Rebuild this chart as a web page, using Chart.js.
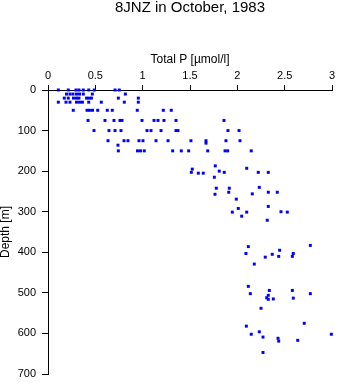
<!DOCTYPE html>
<html>
<head>
<meta charset="utf-8">
<script src="https://cdn.jsdelivr.net/npm/chart.js@4"></script>
<style>
  body { margin: 0; background: #fff; }
  canvas { display: block; }
</style>
</head>
<body>
<canvas id="chart" width="338" height="384"></canvas>
<script>
const title = '8JNZ in October, 1983';
const xTitle = 'Total P [µmol/l]';
const yTitle = 'Depth [m]';

const xTicks = [0, 0.5, 1, 1.5, 2, 2.5, 3];
const xTickLabels = ['0', '0.5', '1', '1.5', '2', '2.5', '3'];
const yTicks = [0, 100, 200, 300, 400, 500, 600, 700];
const yTickLabels = ['0', '100', '200', '300', '400', '500', '600', '700'];

// upper layer: standard bottle depths, several stations each
const shelfDepths = [0, 10, 20, 30, 50, 75, 100, 125, 150];
const shelfTotalP = [
  [0.109, 0.214, 0.296, 0.327, 0.373, 0.43, 0.489, 0.708, 0.753],
  [0.195, 0.232, 0.264, 0.301, 0.333, 0.373, 0.468, 0.817],
  [0.172, 0.214, 0.269, 0.301, 0.327, 0.407, 0.433, 0.459, 0.743, 0.954],
  [0.109, 0.19, 0.232, 0.301, 0.333, 0.364, 0.43, 0.563, 0.806, 0.954],
  [0.267, 0.412, 0.438, 0.47, 0.525, 0.626, 0.679, 0.943, 1.218, 1.302],
  [0.423, 0.602, 0.697, 0.76, 0.782, 0.993, 1.12, 1.162, 1.225, 1.352, 1.859],
  [0.486, 0.644, 0.708, 0.771, 1.046, 1.088, 1.194, 1.352, 1.373, 1.901, 2.018],
  [0.634, 0.803, 0.845, 0.961, 1.003, 1.141, 1.268, 1.51, 1.669, 1.88, 2.028],
  [0.743, 0.945, 0.977, 1.017, 1.317, 1.408, 1.486, 1.687, 1.87, 1.898, 2.147]
];

// deeper samples
const deepDepth = [131, 136, 187, 193, 195, 200, 203, 203, 203, 203, 205, 205, 215,
  240, 242, 242, 252, 252, 252, 256, 257, 269, 287, 292, 300, 301, 301, 301, 311, 321,
  383, 386, 395, 403, 403, 405, 410, 410, 412, 429,
  484, 494, 494, 502, 502, 506, 512, 513, 515, 516, 538,
  575, 582, 596, 602, 602, 609, 612, 617, 619, 647];
const deepTotalP = [1.669, 0.739, 1.767, 2.099, 1.524, 1.809, 1.514, 1.862, 2.221, 2.327, 1.588, 1.64, 1.757,
  2.232, 1.778, 1.915, 1.909, 2.327, 2.422, 2.158, 1.764, 1.989, 2.327, 2.01, 2.461, 1.947, 2.099, 2.528, 2.046, 2.316,
  2.771, 2.116, 2.447, 2.091, 2.591, 2.369, 2.437, 2.581, 2.295, 2.179,
  2.116, 2.338, 2.581, 2.137, 2.771, 2.327, 2.31, 2.591, 2.38, 2.327, 2.25,
  2.707, 2.095, 2.232, 2.147, 2.993, 2.271, 2.43, 2.638, 2.437, 2.271];

const points = [];
shelfDepths.forEach((d, i) => shelfTotalP[i].forEach(p => points.push({ x: p, y: d })));
deepDepth.forEach((d, i) => points.push({ x: deepTotalP[i], y: d }));

const font = "'Liberation Sans', Arial, Helvetica, sans-serif";
Chart.defaults.font.family = font;
Chart.defaults.color = '#000';

const axisGrid = (len) => ({ drawOnChartArea: false, drawTicks: true, tickLength: len, color: '#000', lineWidth: 1 });

new Chart(document.getElementById('chart'), {
  type: 'scatter',
  data: {
    datasets: [{
      data: points,
      pointStyle: 'rect',
      pointRadius: 2.1,
      pointBorderWidth: 0,
      backgroundColor: '#0000ff',
      borderColor: '#0000ff',
      clip: false
    }]
  },
  options: {
    responsive: false,
    animation: false,
    events: [],
    layout: { padding: { left: 0, right: 6, top: 0, bottom: 10 } },
    plugins: {
      legend: { display: false },
      tooltip: { enabled: false },
      title: {
        display: true,
        text: title,
        fullSize: false,
        color: '#000',
        font: { size: 15, weight: 'normal', lineHeight: 1 },
        padding: { top: 0, bottom: 0 }
      }
    },
    scales: {
      x: {
        type: 'linear',
        position: 'top',
        min: 0,
        max: 3,
        afterBuildTicks: s => { s.ticks = xTicks.map(v => ({ value: v })); },
        afterFit: s => { s.height = 75; s.paddingLeft = 0; s.paddingRight = 0; },
        ticks: {
          callback: (v, i) => xTickLabels[i],
          font: { size: 11 },
          padding: 2,
          maxRotation: 0,
          autoSkip: false
        },
        grid: axisGrid(5),
        border: { display: true, color: '#000', width: 1 },
        title: {
          display: true,
          text: xTitle,
          font: { size: 12, lineHeight: 1.2 },
          padding: { top: 37, bottom: 0 }
        }
      },
      y: {
        type: 'linear',
        position: 'left',
        reverse: true,
        min: 0,
        max: 700,
        afterBuildTicks: s => { s.ticks = yTicks.map(v => ({ value: v })); },
        afterFit: s => { s.width = 48; s.paddingTop = 0; s.paddingBottom = 0; },
        ticks: {
          callback: (v, i) => yTickLabels[i],
          font: { size: 11 },
          padding: 6,
          autoSkip: false
        },
        grid: axisGrid(6),
        border: { display: true, color: '#000', width: 1 },
        title: {
          display: true,
          text: yTitle,
          font: { size: 12, lineHeight: 1 },
          padding: { top: 0, bottom: 0 }
        }
      }
    }
  }
});
</script>
</body>
</html>
